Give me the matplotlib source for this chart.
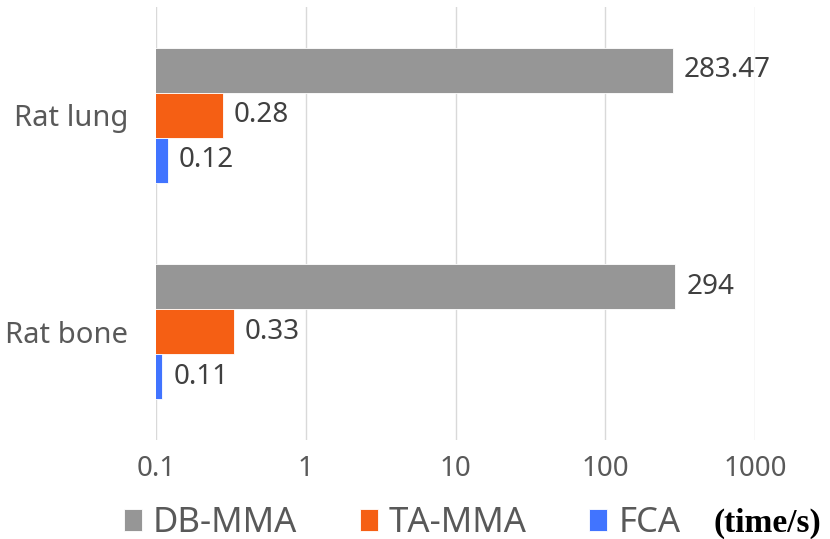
import numpy as np
import matplotlib
matplotlib.use("Agg")
import matplotlib.pyplot as plt

# data
categories = ["Rat lung", "Rat bone"]
series_names = ["DB-MMA", "TA-MMA", "FCA"]
db_mma = [283.47, 294]
ta_mma = [0.28, 0.33]
fca = [0.12, 0.11]
x_ticks = [0.1, 1, 10, 100, 1000]
x_ticklabels = ["0.1", "1", "10", "100", "1000"]

colors = ["#969696", "#F55F14", "#4174FF"]
shown = [["283.47", "294"], ["0.28", "0.33"], ["0.12", "0.11"]]

plt.rcParams["font.family"] = ["Noto Sans", "DejaVu Sans"]

fig = plt.figure(figsize=(8.3, 5.39), dpi=100)
ax = fig.add_axes([156 / 830, 1 - 440 / 539, (755 - 156) / 830, 433 / 539])

y = np.arange(len(categories))
h = 0.208
handles = []
for i, (vals, col) in enumerate(zip([db_mma, ta_mma, fca], colors)):
    pos = y + (i - 1) * h
    b = ax.barh(pos, vals, height=h, left=0.0, color=col,
                edgecolor="white", linewidth=0.6, label=series_names[i], zorder=3)
    handles.append(b)
    for p, v, s in zip(pos, vals, shown[i]):
        ax.annotate(s, xy=(v, p), xytext=(8, 0), textcoords="offset points",
                    ha="left", va="center", fontsize=20, color="#404040")

ax.set_xscale("log")
ax.set_xlim(0.1, 1000)
ax.set_ylim(len(categories) - 0.5, -0.5)
ax.set_xticks(x_ticks)
ax.set_xticklabels(x_ticklabels)
ax.xaxis.set_minor_locator(matplotlib.ticker.NullLocator())
ax.set_yticks(y)
ax.set_yticklabels(categories, fontsize=21)
ax.tick_params(axis="both", length=0, colors="#595959")
ax.tick_params(axis="x", pad=11, labelsize=20)
ax.tick_params(axis="y", pad=20)
ax.grid(axis="x", color="#D9D9D9", linewidth=1.0, zorder=0)
for sp in ax.spines.values():
    sp.set_visible(False)

leg = fig.legend(handles=handles, loc="center", ncol=3,
                 bbox_to_anchor=(((124 + 680) / 2) / 830, 1 - 523 / 539),
                 frameon=False, fontsize=25, handlelength=0.52, handleheight=0.58,
                 handletextpad=0.32, columnspacing=1.8, labelcolor="#595959")

fig.text(713 / 830, 1 - 523 / 539, "(time/s)", ha="left", va="center",
         fontsize=24, fontweight="bold", family="Liberation Serif", color="black")

fig.savefig("out.png", dpi=100)
